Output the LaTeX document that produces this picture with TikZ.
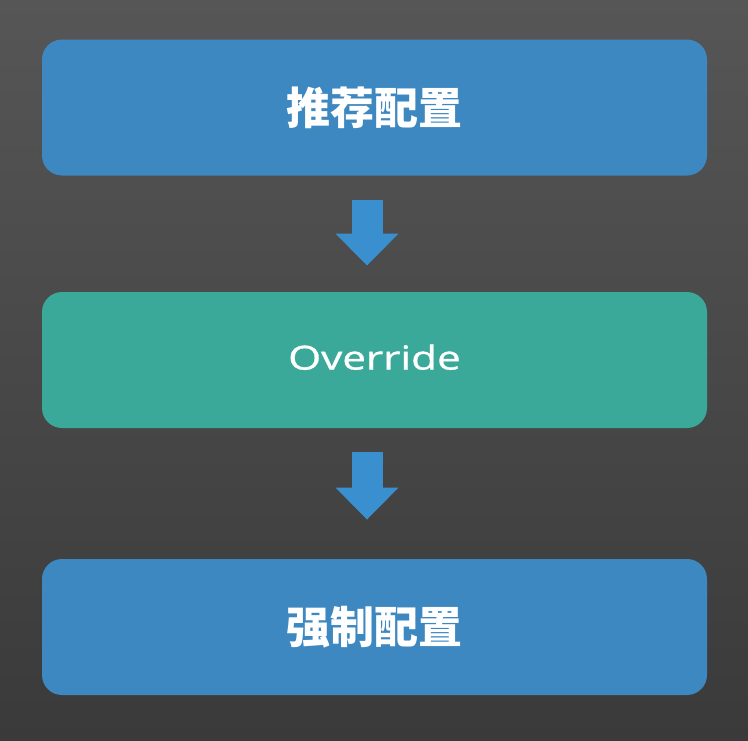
\documentclass[tikz,border=0pt]{standalone}
\usepackage{fontspec}
\usetikzlibrary{positioning}
\usetikzlibrary{arrows.meta}
\newfontfamily\cjk{Noto Sans CJK SC}
\newfontfamily\lat[FakeStretch=1.28, FakeBold=1]{Open Sans}
\definecolor{bgtop}{RGB}{86,86,86}
\definecolor{bgbot}{RGB}{58,58,58}
\definecolor{boxblue}{RGB}{61,136,192}
\definecolor{boxgreen}{RGB}{59,169,154}
\definecolor{arrblue}{RGB}{58,143,207}

\begin{document}
\begin{tikzpicture}[x=0.5pt, y=-0.5pt,
        n/.style={rounded corners=10pt, minimum width=332.5pt, minimum height=68pt, inner sep=0pt, text=white, font=\cjk\bfseries\fontsize{22pt}{22pt}\selectfont},
        a/.style={draw=arrblue, line width=15.5pt, -{Triangle[width=30.5pt, length=16pt]}}]
        \shade[top color=bgtop, bottom color=bgbot] (0,0) rectangle (748,740);
        \useasboundingbox (0,0) rectangle (748,740);

        \node[n, fill=boxblue] (rec) at (374.5,107.5) {推荐配置};
        \node[n, fill=boxgreen] (ovr) at (374.5,360) {\raisebox{3pt}{\lat\mdseries\fontsize{16.5pt}{16.5pt}\selectfont Override}};
        \node[n, fill=boxblue] (frc) at (374.5,627) {强制配置};

        \draw[a, shorten <=12pt, shorten >=13pt] ([xshift=-3.75pt]rec.south) -- ([xshift=-3.75pt]ovr.north);
        \draw[a, shorten <=12pt, shorten >=19.5pt] ([xshift=-3.75pt]ovr.south) -- ([xshift=-3.75pt]frc.north);
    \end{tikzpicture}
\end{document}
